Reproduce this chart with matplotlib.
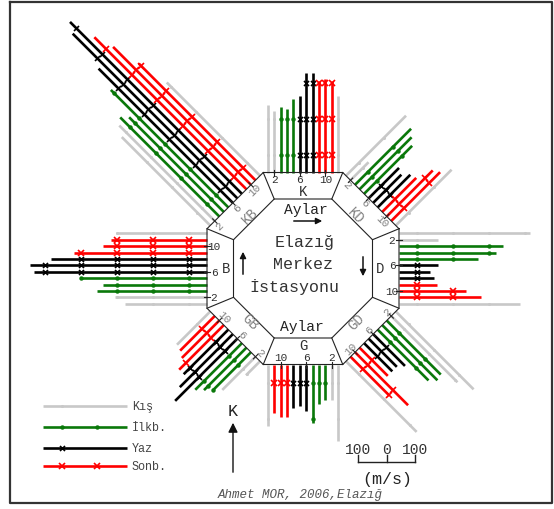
import numpy as np
import matplotlib.pyplot as plt

plt.rcParams['font.family'] = ['Liberation Mono', 'DejaVu Sans Mono']

# wind directions, clockwise from north, with the outward angle of each side (deg)
directions = ['K', 'KD', 'D', 'GD', 'G', 'GB', 'B', 'KB']
side_angles = [90, 45, 0, -45, -90, -135, 180, 135]

# monthly values (Jan..Dec) for each direction, same units as the scale bar
val_K  = [237, 219, 233, 226, 261, 272, 353, 353, 325, 332, 325, 272]
val_KD = [300, 90, 280, 260, 240, 152, 141, 163, 170, 230, 244, 279]
val_D  = [463, 137, 367, 343, 279, 137, 110, 124, 134, 236, 290, 428]
val_GD = [389, 331, 270, 276, 254, 159, 141, 141, 141, 265, 194, 353]
val_G  = [272, 124, 127, 138, 208, 166, 145, 155, 184, 184, 173, 219]
val_GB = [70, 166, 191, 212, 233, 311, 265, 223, 223, 187, 173, 166]
val_B  = [290, 325, 389, 367, 449, 611, 625, 551, 470, 367, 339, 322]
val_KB = [442, 477, 495, 473, 587, 671, 823, 859, 760, 689, 583, 466]
values = [val_K, val_KD, val_D, val_GD, val_G, val_GB, val_B, val_KB]

month_ticks = [2, 6, 10]

# seasons
seasons = ['Kış', 'İlkb.', 'Yaz', 'Sonb.']
season_colors = ['#c8c8c8', '#0a780a', '#000000', '#ff0000']
season_of_month = [0, 0, 1, 1, 1, 2, 2, 2, 3, 3, 3, 0]
season_markers = [('o', 2.2, 0.0), ('o', 3.2, 0.0), ('x', 3.6, 1.2), ('x', 3.8, 1.2)]

# drawing geometry (pixels)
CX, CY = 303.0, 269.5
A_OUT, A_IN = 96.0, 69.5
STEP = 6.4           # spacing of the months along a side
PX = 0.283           # pixels per unit (100 units on the scale bar)
MARK0, MARKSTEP = 18.0, 36.0

fig = plt.figure(figsize=(5.54, 5.10), dpi=100)
ax = fig.add_axes([0, 0, 1, 1])
ax.set_xlim(0, 554)
ax.set_ylim(510, 0)
ax.axis('off')


def pt(u, v):
    """math-style offsets from the centre -> pixel position"""
    return CX + u, CY - v


def octagon(a):
    r = a / np.cos(np.radians(22.5))
    th = np.radians(22.5 + 45 * np.arange(9))
    return CX + r * np.cos(th), CY - r * np.sin(th)


# monthly bars
for ang, vals in zip(side_angles, values):
    n = np.array([np.cos(np.radians(ang)), np.sin(np.radians(ang))])
    t = np.array([np.cos(np.radians(ang - 90)), np.sin(np.radians(ang - 90))])
    for m, v in enumerate(vals, 1):
        s = season_of_month[m - 1]
        col = season_colors[s]
        base = A_OUT * n + (m - 6.5) * STEP * t
        length = v * PX
        tip = base + length * n
        x0, y0 = pt(*base)
        x1, y1 = pt(*tip)
        ax.plot([x0, x1], [y0, y1], color=col, lw=1.9, solid_capstyle='butt', zorder=2)
        d = np.arange(MARK0, length, MARKSTEP)
        if len(d):
            mk = base[None, :] + d[:, None] * n[None, :]
            mx, my = pt(mk[:, 0], mk[:, 1])
            marker, ms, mew = season_markers[s]
            ax.plot(mx, my, ls='none', marker=marker, ms=ms, mew=mew,
                    color=col, zorder=3)

# octagon frame
ox, oy = octagon(A_OUT)
ix, iy = octagon(A_IN)
ax.fill(ox, oy, color='white', zorder=1)
ax.plot(ox, oy, color='#222222', lw=0.8, zorder=4)
ax.plot(ix, iy, color='#222222', lw=0.8, zorder=4)
for k in range(8):
    ax.plot([ix[k], ox[k]], [iy[k], oy[k]], color='#222222', lw=0.8, zorder=4)

# side labels and month ticks
for name, ang in zip(directions, side_angles):
    n = np.array([np.cos(np.radians(ang)), np.sin(np.radians(ang))])
    t = np.array([np.cos(np.radians(ang - 90)), np.sin(np.radians(ang - 90))])
    diag = len(name) == 2
    rot = (ang - 90) if diag else 0
    if rot < -90:
        rot += 180
    if rot > 90:
        rot -= 180
    lc = '#808080' if diag else '#303030'
    x, y = pt(*((75 if diag else 77) * n))
    ax.text(x, y, name, ha='center', va='center', fontsize=10, color=lc,
            rotation=rot, zorder=5)
    for m in month_ticks:
        p = (m - 6.5) * STEP * t
        x, y = pt(*(p + (89 if not diag else 90) * n))
        ax.text(x, y, str(m), ha='center', va='center', fontsize=8,
                color=lc, rotation=rot, zorder=5)
        a0 = p + 93 * n
        a1 = p + 99 * n
        ax.plot([pt(*a0)[0], pt(*a1)[0]], [pt(*a0)[1], pt(*a1)[1]],
                color='#222222', lw=0.8, zorder=5)

# centre text
ax.text(305, 243, 'Elazığ', ha='center', va='center', fontsize=12, color='#333333')
ax.text(303, 265, 'Merkez', ha='center', va='center', fontsize=12, color='#333333')
ax.text(294, 287, 'İstasyonu', ha='center', va='center', fontsize=12, color='#333333')
ax.text(306, 210, 'Aylar', ha='center', va='center', fontsize=10.5, color='#222222')
ax.text(302, 327, 'Aylar', ha='center', va='center', fontsize=10.5, color='#222222')

arrow = dict(arrowstyle='-|>', color='#111111', lw=1.1, mutation_scale=9)
ax.annotate('', xy=(325, 222), xytext=(291, 222), arrowprops=arrow)
ax.annotate('', xy=(243, 250), xytext=(243, 278), arrowprops=arrow)
ax.annotate('', xy=(363, 280), xytext=(363, 255), arrowprops=arrow)

# legend
leg_y = [407, 428, 449, 467]
leg_marks = [[62], [62, 97], [62], [62, 97]]
for s in range(4):
    col = season_colors[s]
    ax.plot([43, 127], [leg_y[s], leg_y[s]], color=col, lw=1.9, solid_capstyle='butt')
    marker, ms, mew = season_markers[s]
    ax.plot(leg_marks[s], [leg_y[s]] * len(leg_marks[s]), ls='none', marker=marker,
            ms=ms, mew=mew, color=col)
    ax.text(132, leg_y[s], seasons[s], ha='left', va='center', fontsize=8.5,
            color='#444444')

# north arrow
ax.text(233, 412, 'K', ha='center', va='center', fontsize=12, color='#222222')
ax.annotate('', xy=(233, 421), xytext=(233, 476),
            arrowprops=dict(arrowstyle='-|>', color='#111111', lw=1.0,
                            mutation_scale=14))

# scale bar
sb = [358.3, 386.7, 415.0]
ax.plot([sb[0], sb[2]], [463, 463], color='#222222', lw=1.0)
for x, lab in zip(sb, ['100', '0', '100']):
    ax.plot([x, x], [463, 456], color='#222222', lw=1.0)
    ax.text(x, 450, lab, ha='center', va='center', fontsize=10.5, color='#333333')
ax.text(387, 480, '(m/s)', ha='center', va='center', fontsize=12, color='#222222')

ax.text(300, 495, 'Ahmet MOR, 2006,Elazığ', ha='center', va='center',
        fontsize=9, style='italic', color='#555555')

# outer frame
ax.plot([10, 10, 552, 552, 10], [3, 504, 504, 3, 3], color='#333333', lw=1.6)

fig.savefig('out.png', dpi=100)
